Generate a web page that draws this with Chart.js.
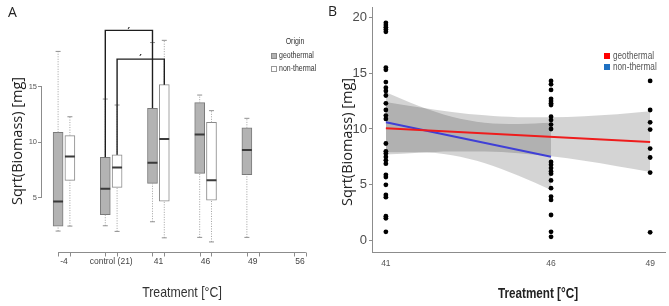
<!DOCTYPE html>
<html>
<head>
<meta charset="utf-8">
<script src="https://cdn.jsdelivr.net/npm/chart.js@4.4.1/dist/chart.umd.min.js"></script>
<style>
body { margin: 0; background: #fff; }
#wrap { position: relative; width: 669px; height: 306px; overflow: hidden; }
canvas { position: absolute; top: 0; }
.t { position: absolute; white-space: nowrap; color: #333; }
.narrow { font-family: "Liberation Sans Narrow", "Liberation Sans", sans-serif; transform: scaleX(0.82); transform-origin: left center; }
.open { font-family: "Open Sans", sans-serif; }
.ytitle { width: 200px; height: 18px; line-height: 18px; text-align: center; transform: rotate(-90deg); font-size: 14.5px; color: #222; }
.xtitle { width: 200px; height: 18px; line-height: 18px; text-align: center; transform-origin: center center; }
.sq { position: absolute; }
</style>
</head>
<body>
<div id="wrap">
  <canvas id="chartA" width="340" height="306" style="left:0"></canvas>
  <canvas id="chartB" width="329" height="306" style="left:340px"></canvas>

  <div class="t open" style="left:8px; top:5px; font-size:14px; line-height:1; color:#222">A</div>
  <div class="t open" style="left:328px; top:4px; font-size:14px; line-height:1; color:#222">B</div>

  <div class="t open ytitle" style="left:-83px; top:132px">Sqrt(Biomass) [mg]</div>
  <div class="t open ytitle" style="left:247px; top:133px">Sqrt(Biomass) [mg]</div>
  <div class="t narrow xtitle" style="left:82px; top:283px; font-size:15px">Treatment [°C]</div>
  <div class="t narrow xtitle" style="left:438px; top:284px; font-size:15px; font-weight:bold; color:#222; transform:scaleX(0.78)">Treatment [°C]</div>

  <!-- legend A -->
  <div class="t narrow" style="left:275px; top:36px; width:40px; text-align:center; font-size:8.5px; line-height:10px; transform-origin:center center">Origin</div>
  <div class="sq" style="left:271px; top:53px; width:4px; height:4px; background:#b3b3b3; border:1px solid #888"></div>
  <div class="t narrow" style="left:279px; top:50px; font-size:8.5px; line-height:10px">geothermal</div>
  <div class="sq" style="left:271px; top:66px; width:4px; height:4px; background:#fff; border:1px solid #999"></div>
  <div class="t narrow" style="left:279px; top:63px; font-size:8.5px; line-height:10px">non-thermal</div>

  <!-- legend B -->
  <div class="sq" style="left:604px; top:53px; width:6px; height:6px; background:#ff0000"></div>
  <div class="t narrow" style="left:613px; top:50px; font-size:10px; line-height:12px; color:#555">geothermal</div>
  <div class="sq" style="left:604px; top:64px; width:6px; height:6px; background:#1f70c1"></div>
  <div class="t narrow" style="left:613px; top:61px; font-size:10px; line-height:12px; color:#555">non-thermal</div>
</div>

<script>
// ---- Panel A: box plot summaries (sqrt biomass) ----
const treatments = ['-4', 'control (21)', '41', '46', '49', '56'];
const geoLow  = [1.98, 2.46, 2.82, 1.41, 1.41];
const geoQ1   = [2.43, 3.45, 6.28, 7.19, 7.07];
const geoMed  = [4.66, 5.80, 8.15, 10.70, 9.30];
const geoQ3   = [10.90, 8.64, 13.06, 13.57, 11.30];
const geoHigh = [18.20, 13.90, 19.00, 14.26, 12.16];
const nonLow  = [2.43, 1.95, 1.37, 1.00];
const nonQ1   = [6.56, 5.92, 4.69, 4.78];
const nonMed  = [8.72, 7.73, 10.30, 6.56];
const nonQ3   = [10.60, 8.87, 15.20, 11.80];
const nonHigh = [12.30, 13.36, 19.20, 12.85];
// significance brackets control vs 41 (geothermal, non-thermal)
const bracketTop = [20.1, 17.5];
const yTicksA = [5, 10, 15];

// ---- Panel B: raw values and linear fits ----
const xTicksB = [41, 46, 49];
const yTicksB = [0, 5, 10, 15, 20];
const pts41 = [19.5, 19.3, 19.1, 18.9, 18.7, 15.5, 15.3, 14.2, 13.7, 13.4, 13.0, 12.3, 11.7, 11.2, 10.9,
               8.7, 8.0, 7.8, 7.5, 7.2, 6.9, 5.9, 5.7, 5.0, 4.1, 3.9, 2.2, 2.0, 0.8];
const pts46 = [14.3, 14.0, 13.5, 12.7, 12.5, 12.3, 12.15, 11.1, 10.8, 10.4, 10.0,
               7.05, 6.8, 6.5, 6.2, 6.0, 5.4, 4.7, 3.95, 3.65, 2.3, 0.8, 0.35];
const pts49 = [14.3, 11.7, 10.6, 9.95, 8.25, 7.45, 6.1, 0.75];
const geoFitX = [41, 49];
const geoFitY = [10.06, 8.84];
const nonFitX = [41, 46];
const nonFitY = [10.60, 7.52];
const geoBandX  = [41, 42, 43, 44, 45, 46, 47, 48, 49];
const geoBandHi = [12.41, 11.94, 11.53, 11.22, 11.06, 11.05, 11.15, 11.31, 11.58];
const geoBandLo = [7.71, 7.88, 7.99, 7.98, 7.84, 7.55, 7.15, 6.67, 6.16];
const nonBandX  = [41, 42, 43, 44, 45, 46];
const nonBandHi = [13.29, 12.05, 11.09, 10.56, 10.44, 10.55];
const nonBandLo = [7.91, 7.91, 7.65, 6.94, 5.84, 4.54];

const narrow = '"Liberation Sans Narrow", "Liberation Sans", sans-serif';
const off = 0.125;   // half distance between paired boxes
const halfBox = 0.105;

function boxes(xs, q1, q3) {
    return xs.map((x, i) => ({x: x, y: [q1[i], q3[i]]}));
}

function whiskers(xs, low, q1, q3, high) {
    const pts = [];
    xs.forEach((x, i) => {
        pts.push({x: x, y: low[i]}, {x: x, y: q1[i]}, {x: x, y: null},
                 {x: x, y: q3[i]}, {x: x, y: high[i]}, {x: x, y: null});
    });
    return pts;
}

function medians(xs, med) {
    const pts = [];
    xs.forEach((x, i) => {
        pts.push({x: x - halfBox, y: med[i]}, {x: x + halfBox, y: med[i]}, {x: x, y: null});
    });
    return pts;
}

const geoX = geoMed.map((v, i) => i - off);
const nonX = nonMed.map((v, i) => i + off);

const bracketPts = [
    {x: 1 - off, y: geoQ3[1]}, {x: 1 - off, y: bracketTop[0]},
    {x: 2 - off, y: bracketTop[0]}, {x: 2 - off, y: geoQ3[2]}, {x: 2, y: null},
    {x: 1 + off, y: nonQ3[1]}, {x: 1 + off, y: bracketTop[1]},
    {x: 2 + off, y: bracketTop[1]}, {x: 2 + off, y: nonQ3[2]}
];

const whiskerStyle = {
    type: 'line',
    borderColor: '#a0a0a0',
    borderWidth: 1,
    borderDash: [1, 1.5],
    pointStyle: 'line',
    pointBorderColor: '#909090',
    pointBorderWidth: 1,
    pointRadius: ctx => (ctx.index % 6 === 0 || ctx.index % 6 === 4) ? 2.5 : 0,
    spanGaps: false,
    order: 2
};

// R-style axis lines for panel A (only across the ticks)
const axesA = {
    id: 'axesA',
    afterDraw(chart) {
        const {ctx, chartArea, scales: {x, y}} = chart;
        ctx.save();
        ctx.strokeStyle = '#8c8c8c';
        ctx.lineWidth = 1;
        const yb = Math.round(chartArea.bottom) - 0.5;
        ctx.beginPath();
        ctx.moveTo(x.getPixelForValue(-off), yb);
        ctx.lineTo(x.getPixelForValue(treatments.length - 1 + off), yb);
        treatments.forEach((t, i) => {
            [i - off, i + off].forEach(v => {
                const px = Math.round(x.getPixelForValue(v)) + 0.5;
                ctx.moveTo(px, yb);
                ctx.lineTo(px, yb + 4);
            });
        });
        const xl = Math.round(chartArea.left) - 0.5;
        ctx.moveTo(xl, y.getPixelForValue(yTicksA[0]));
        ctx.lineTo(xl, y.getPixelForValue(yTicksA[yTicksA.length - 1]));
        ctx.stroke();

        // significance marks sitting just above the brackets
        ctx.fillStyle = '#222';
        ctx.font = 'bold 10px "DejaVu Sans"';
        ctx.textAlign = 'center';
        ctx.textBaseline = 'alphabetic';
        ctx.fillText('′', x.getPixelForValue(1.5 - off), y.getPixelForValue(bracketTop[0]) + 5);
        ctx.fillText('′', x.getPixelForValue(1.5 + off), y.getPixelForValue(bracketTop[1]) + 3);
        ctx.restore();
    }
};

new Chart(document.getElementById('chartA'), {
    type: 'bar',
    data: {
        datasets: [
            {
                label: 'geothermal',
                data: boxes(geoX, geoQ1, geoQ3),
                backgroundColor: '#b3b3b3',
                borderColor: '#7a7a7a',
                borderWidth: 1,
                borderSkipped: false,
                barThickness: 10,
                grouped: false,
                order: 3
            },
            {
                label: 'non-thermal',
                data: boxes(nonX, nonQ1, nonQ3),
                backgroundColor: '#ffffff',
                borderColor: '#8a8a8a',
                borderWidth: 1,
                borderSkipped: false,
                barThickness: 10,
                grouped: false,
                order: 3
            },
            Object.assign({data: whiskers(geoX, geoLow, geoQ1, geoQ3, geoHigh)}, whiskerStyle),
            Object.assign({data: whiskers(nonX, nonLow, nonQ1, nonQ3, nonHigh)}, whiskerStyle),
            {
                type: 'line',
                data: medians(geoX, geoMed).concat(medians(nonX, nonMed)),
                borderColor: '#3a3a3a',
                borderWidth: 2,
                pointRadius: 0,
                spanGaps: false,
                order: 1
            },
            {
                type: 'line',
                data: bracketPts,
                borderColor: '#1e1e1e',
                borderWidth: 1.4,
                pointRadius: 0,
                spanGaps: false,
                order: 0
            }
        ]
    },
    options: {
        responsive: false,
        animation: false,
        layout: {padding: {left: 0, top: 20.4, right: 11.7, bottom: 0}},
        plugins: {legend: {display: false}, tooltip: {enabled: false}},
        scales: {
            x: {
                type: 'linear',
                min: -0.466,
                max: 5.6,
                offset: false,
                afterBuildTicks: s => { s.ticks = treatments.map((t, i) => ({value: i})); },
                grid: {display: false, drawTicks: false},
                border: {display: false},
                ticks: {
                    autoSkip: false,
                    maxRotation: 0,
                    padding: 4,
                    color: '#444',
                    font: {family: narrow, size: 8.5},
                    callback: (v, i) => treatments[i]
                },
                afterFit: s => { s.height = 53; s.paddingLeft = 0; s.paddingRight = 0; }
            },
            y: {
                min: 0,
                max: 21,
                afterBuildTicks: s => { s.ticks = yTicksA.map(v => ({value: v})); },
                grid: {display: true, drawOnChartArea: false, drawTicks: true, tickLength: 4, color: '#8c8c8c'},
                border: {display: false},
                ticks: {padding: 1, color: '#555', font: {family: narrow, size: 7.5}},
                afterFit: s => { s.width = 42; s.paddingTop = 0; s.paddingBottom = 0; }
            }
        }
    },
    plugins: [axesA]
});

// ---- Panel B ----
const scatterPts = []
    .concat(pts41.map(v => ({x: 41, y: v})))
    .concat(pts46.map(v => ({x: 46, y: v})))
    .concat(pts49.map(v => ({x: 49, y: v})));

function xy(xs, ys) {
    return xs.map((x, i) => ({x: x, y: ys[i]}));
}

const bandFill = 'rgba(0, 0, 0, 0.17)';

new Chart(document.getElementById('chartB'), {
    type: 'scatter',
    data: {
        datasets: [
            {type: 'line', data: xy(geoBandX, geoBandHi), fill: '+1', backgroundColor: bandFill,
             borderWidth: 0, pointRadius: 0, cubicInterpolationMode: 'monotone', order: 3},
            {type: 'line', data: xy(geoBandX, geoBandLo), fill: false,
             borderWidth: 0, pointRadius: 0, cubicInterpolationMode: 'monotone', order: 3},
            {type: 'line', data: xy(nonBandX, nonBandHi), fill: '+1', backgroundColor: bandFill,
             borderWidth: 0, pointRadius: 0, cubicInterpolationMode: 'monotone', order: 3},
            {type: 'line', data: xy(nonBandX, nonBandLo), fill: false,
             borderWidth: 0, pointRadius: 0, cubicInterpolationMode: 'monotone', order: 3},
            {type: 'line', label: 'geothermal', data: xy(geoFitX, geoFitY), borderColor: '#ee1c1c',
             borderWidth: 2, pointRadius: 0, order: 1},
            {type: 'line', label: 'non-thermal', data: xy(nonFitX, nonFitY), borderColor: '#3f3fd6',
             borderWidth: 2, pointRadius: 0, order: 1},
            {label: 'values', data: scatterPts, backgroundColor: '#000', borderWidth: 0,
             pointRadius: 2.4, order: 0}
        ]
    },
    options: {
        responsive: false,
        animation: false,
        layout: {padding: {left: 0, top: 7, right: 4, bottom: 0}},
        plugins: {legend: {display: false}, tooltip: {enabled: false}},
        scales: {
            x: {
                type: 'linear',
                min: 40.58,
                max: 49.45,
                afterBuildTicks: s => { s.ticks = xTicksB.map(v => ({value: v})); },
                grid: {display: false, drawTicks: false},
                border: {display: true, color: '#8c8c8c', width: 1},
                ticks: {autoSkip: false, maxRotation: 0, padding: 7, color: '#555',
                        font: {family: narrow, size: 8.5}},
                afterFit: s => { s.height = 54; s.paddingLeft = 0; s.paddingRight = 0; }
            },
            y: {
                min: -1.01,
                max: 20.92,
                afterBuildTicks: s => { s.ticks = yTicksB.map(v => ({value: v})); },
                grid: {display: true, drawOnChartArea: false, drawTicks: true, tickLength: 3, color: '#8c8c8c'},
                border: {display: true, color: '#8c8c8c', width: 1},
                ticks: {padding: 2, color: '#4d4d4d', font: {family: narrow, size: 13}},
                afterFit: s => { s.width = 32; s.paddingTop = 0; s.paddingBottom = 0; }
            }
        }
    }
});
</script>
</body>
</html>
